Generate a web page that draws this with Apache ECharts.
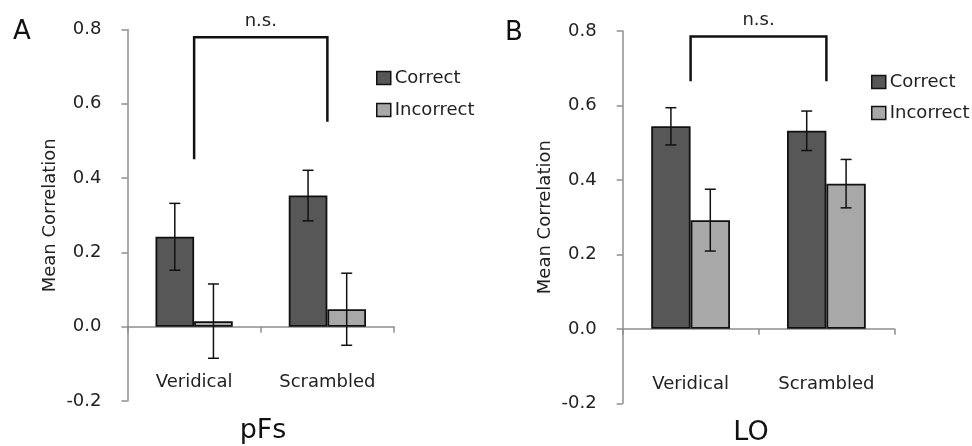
<!DOCTYPE html>
<html>
<head>
<meta charset="utf-8">
<script src="https://cdn.jsdelivr.net/npm/echarts@6/dist/echarts.min.js"></script>
<style>
  html, body { margin: 0; padding: 0; background: #fff; }
  #chart { width: 972px; height: 446px; }
</style>
</head>
<body>
<div id="chart"></div>
<script>
  // data
  const categories = ['Veridical', 'Scrambled']
  const seriesNames = ['Correct', 'Incorrect']

  const pfsCorrect = [0.242, 0.353]
  const pfsCorrectErr = [0.09, 0.068]
  const pfsIncorrect = [0.015, 0.047]
  const pfsIncorrectErr = [0.10, 0.097]

  const loCorrect = [0.544, 0.532]
  const loCorrectErr = [0.05, 0.053]
  const loIncorrect = [0.292, 0.39]
  const loIncorrectErr = [0.083, 0.065]

  // bracket: [top, left leg end, right leg end]
  const pfsBracket = [0.779, 0.451, 0.552]
  const loBracket = [0.785, 0.665, 0.665]

  const yMin = -0.2
  const yMax = 0.8
  const yStep = 0.2

  const panelTitles = ['pFs', 'LO']
  const panelLetters = ['A', 'B']
  const sigLabel = 'n.s.'

  const FONT = 'DejaVu Sans'
  const TEXT = '#222'
  const AXIS = '#8f8f8f'
  const DARK = '#575757'
  const LIGHT = '#a8a8a8'
  const BAR_FRAC = 0.29

  const grids = [
    { left: 127.5, top: 29.5, width: 266.5, height: 371.5, outerBoundsMode: 'none', containLabel: false },
    { left: 622.7, top: 31, width: 271.6, height: 372.3, outerBoundsMode: 'none', containLabel: false }
  ]

  function errorSeries(idx, name, means, errs, side) {
    return {
      type: 'custom',
      name: name,
      xAxisIndex: idx,
      yAxisIndex: idx,
      z: 5,
      data: means.map((m, i) => [i, m, errs[i]]),
      renderItem(params, api) {
        const band = api.size([1, 0])[0]
        const shift = side * band * BAR_FRAC / 2
        const hi = api.coord([api.value(0), api.value(1) + api.value(2)])
        const lo = api.coord([api.value(0), api.value(1) - api.value(2)])
        const x = hi[0] + shift
        const cap = 5.5
        const style = { stroke: '#111', lineWidth: 1.5 }
        return {
          type: 'group',
          children: [
            { type: 'line', shape: { x1: x, y1: hi[1], x2: x, y2: lo[1] }, style },
            { type: 'line', shape: { x1: x - cap, y1: hi[1], x2: x + cap, y2: hi[1] }, style },
            { type: 'line', shape: { x1: x - cap, y1: lo[1], x2: x + cap, y2: lo[1] }, style }
          ]
        }
      }
    }
  }

  function bracketSeries(idx, bracket) {
    return {
      type: 'custom',
      xAxisIndex: idx,
      yAxisIndex: idx,
      z: 6,
      silent: true,
      data: [[0, bracket[0], bracket[1], bracket[2]]],
      renderItem(params, api) {
        const top = api.value(1)
        const a = api.coord([0, top])
        const b = api.coord([1, top])
        const la = api.coord([0, api.value(2)])
        const lb = api.coord([1, api.value(3)])
        const style = { stroke: '#111', lineWidth: 2.5, fill: null }
        return {
          type: 'group',
          children: [
            {
              type: 'polyline',
              shape: { points: [[a[0], la[1]], a, b, [b[0], lb[1]]] },
              style
            },
            {
              type: 'text',
              x: (a[0] + b[0]) / 2,
              y: a[1] - 16,
              style: {
                text: sigLabel, font: '18px "' + FONT + '"', fill: TEXT,
                align: 'center', verticalAlign: 'middle'
              }
            }
          ]
        }
      }
    }
  }

  function barSeries(idx, name, values, color) {
    return {
      type: 'bar',
      name: name,
      xAxisIndex: idx,
      yAxisIndex: idx,
      data: values,
      barWidth: (BAR_FRAC * 100) + '%',
      barGap: '0%',
      itemStyle: { color: color, borderColor: '#111', borderWidth: 1.8 }
    }
  }

  const panels = [
    { correct: pfsCorrect, cErr: pfsCorrectErr, incorrect: pfsIncorrect, iErr: pfsIncorrectErr, bracket: pfsBracket },
    { correct: loCorrect, cErr: loCorrectErr, incorrect: loIncorrect, iErr: loIncorrectErr, bracket: loBracket }
  ]

  const xAxes = []
  const yAxes = []
  const series = []
  panels.forEach((p, i) => {
    xAxes.push({
      type: 'category',
      gridIndex: i,
      data: categories,
      axisLine: { onZero: true, lineStyle: { color: AXIS, width: 1.5 } },
      axisTick: { show: true, length: 6, lineStyle: { color: AXIS, width: 1.5 } },
      axisLabel: {
        show: true, interval: 0, hideOverlap: false,
        margin: -28, fontFamily: FONT, fontSize: 18, color: TEXT
      }
    })
    yAxes.push({
      type: 'value',
      gridIndex: i,
      min: yMin,
      max: yMax,
      interval: yStep,
      name: 'Mean Correlation',
      nameLocation: 'middle',
      nameGap: 68,
      nameTextStyle: { fontFamily: FONT, fontSize: 18, color: TEXT },
      splitLine: { show: false },
      axisLine: { show: true, lineStyle: { color: AXIS, width: 1.5 } },
      axisTick: { show: true, length: 6, lineStyle: { color: AXIS, width: 1.5 } },
      axisLabel: {
        margin: 26, fontFamily: FONT, fontSize: 18, color: TEXT,
        formatter: v => v.toFixed(1)
      }
    })
    series.push(barSeries(i, seriesNames[0], p.correct, DARK))
    series.push(barSeries(i, seriesNames[1], p.incorrect, LIGHT))
    series.push(errorSeries(i, null, p.correct, p.cErr, -1))
    series.push(errorSeries(i, null, p.incorrect, p.iErr, 1))
    series.push(bracketSeries(i, p.bracket))
  })

  const legendBase = {
    orient: 'vertical',
    icon: 'rect',
    itemWidth: 14,
    itemHeight: 13,
    data: seriesNames,
    itemStyle: { borderColor: '#111', borderWidth: 1.5 },
    textStyle: { fontFamily: FONT, fontSize: 18, color: TEXT, padding: [0, 0, 0, -1] },
    selectedMode: false
  }

  const chart = echarts.init(document.getElementById('chart'), null, { renderer: 'canvas' })
  chart.setOption({
    animation: false,
    backgroundColor: '#fff',
    grid: grids,
    xAxis: xAxes,
    yAxis: yAxes,
    legend: [
      Object.assign({}, legendBase, { left: 371, top: 64, itemGap: 14 }),
      Object.assign({}, legendBase, { left: 866, top: 68, itemGap: 13 })
    ],
    graphic: [
      { type: 'text', x: 263, y: 431, style: { text: panelTitles[0], font: '27px "' + FONT + '"', fill: '#111', align: 'center', verticalAlign: 'middle' } },
      { type: 'text', x: 751, y: 433, style: { text: panelTitles[1], font: '27px "' + FONT + '"', fill: '#111', align: 'center', verticalAlign: 'middle' } },
      { type: 'text', x: 22, y: 32, style: { text: panelLetters[0], font: '26px "' + FONT + '"', fill: '#111', align: 'center', verticalAlign: 'middle' } },
      { type: 'text', x: 514, y: 33, style: { text: panelLetters[1], font: '26px "' + FONT + '"', fill: '#111', align: 'center', verticalAlign: 'middle' } }
    ],
    series: series
  })
</script>
</body>
</html>
